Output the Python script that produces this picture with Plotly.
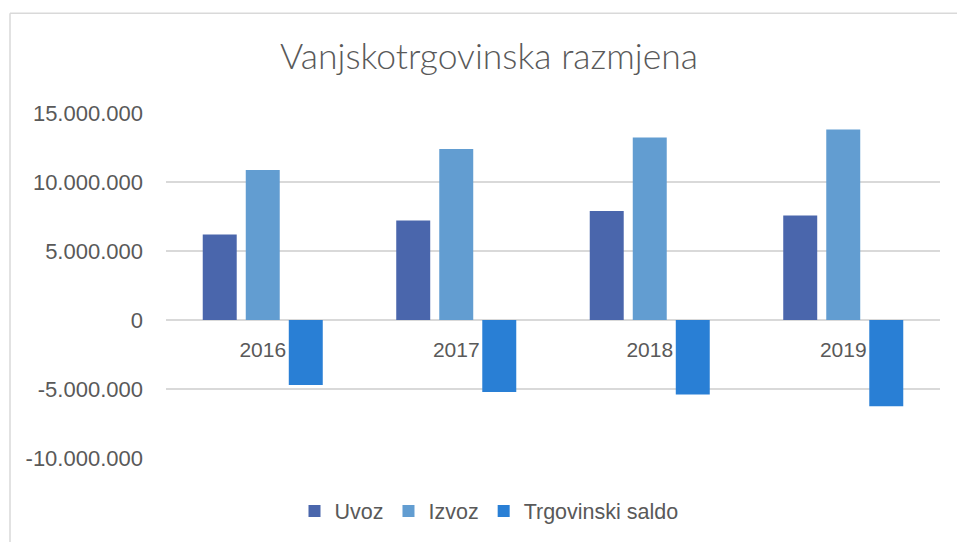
import plotly.graph_objects as go

years = ["2016", "2017", "2018", "2019"]
uvoz = [6200000, 7210000, 7890000, 7580000]
izvoz = [10870000, 12390000, 13230000, 13800000]
saldo = [-4710000, -5220000, -5390000, -6250000]

series_names = ["Uvoz", "Izvoz", "Trgovinski saldo"]
series_colors = ["#4A66AC", "#629DD1", "#297FD5"]

y_tickvals = [15000000, 10000000, 5000000, 0, -5000000, -10000000]
y_ticktext = ["15.000.000", "10.000.000", "5.000.000", "0", "-5.000.000", "-10.000.000"]

title_text = "Vanjskotrgovinska razmjena"

FONT = "Liberation Sans"
GREY = "#595959"

fig = go.Figure()
for name, vals, col in zip(series_names, [uvoz, izvoz, saldo], series_colors):
    fig.add_trace(go.Bar(x=years, y=vals, name=name, marker=dict(color=col, line=dict(width=0))))

# plot area in window pixels: x 166..940, y 113..459
W, H = 957, 542
L, R, T, B = 166, 940, 113, 459
pw, ph = R - L, B - T

def px_x(px):
    return (px - L) / pw

def px_y(py):
    return (B - py) / ph

border = dict(color="#D9D9D9", width=1.5)

fig.update_layout(
    width=W, height=H,
    margin=dict(l=L, r=W - R, t=T, b=H - B, pad=0),
    paper_bgcolor="white", plot_bgcolor="white",
    font=dict(family=FONT, color=GREY, size=21),
    title=dict(text=title_text, x=489 / W, xanchor="center", xref="container",
               y=1 - 57 / H, yanchor="middle", yref="container",
               font=dict(family="Lato", size=35.5, color=GREY, weight=300)),
    barmode="group", bargap=0.333, bargroupgap=0.21,
    showlegend=True,
    legend=dict(orientation="h", x=px_x(489), xanchor="center", y=px_y(511), yanchor="middle",
                font=dict(family=FONT, size=21.5, color=GREY), traceorder="normal"),
    xaxis=dict(type="category", anchor="free", position=px_y(320), showline=False,
               showgrid=False, zeroline=False, ticks="", ticklabelstandoff=16,
               tickfont=dict(family=FONT, size=21, color=GREY)),
    yaxis=dict(range=[-10000000, 15000000], tickvals=y_tickvals, ticktext=y_ticktext,
               showgrid=True, gridcolor="#D9D9D9", gridwidth=1.5, zeroline=True,
               zerolinecolor="#D9D9D9", zerolinewidth=1.5, showline=False, ticks="",
               ticklabelstandoff=22, tickfont=dict(family=FONT, size=22, color=GREY)),
    shapes=[
        dict(type="line", xref="paper", yref="paper",
             x0=px_x(10), x1=px_x(970), y0=px_y(13), y1=px_y(13), line=border, layer="below"),
        dict(type="line", xref="paper", yref="paper",
             x0=px_x(10), x1=px_x(10), y0=px_y(13), y1=px_y(560), line=border, layer="below"),
    ],
)

fig.write_html(
    "out.html",
    config={"displayModeBar": False},
    post_script="document.body.style.margin='0';document.body.style.overflow='hidden';"
                "document.documentElement.style.overflow='hidden';",
)
